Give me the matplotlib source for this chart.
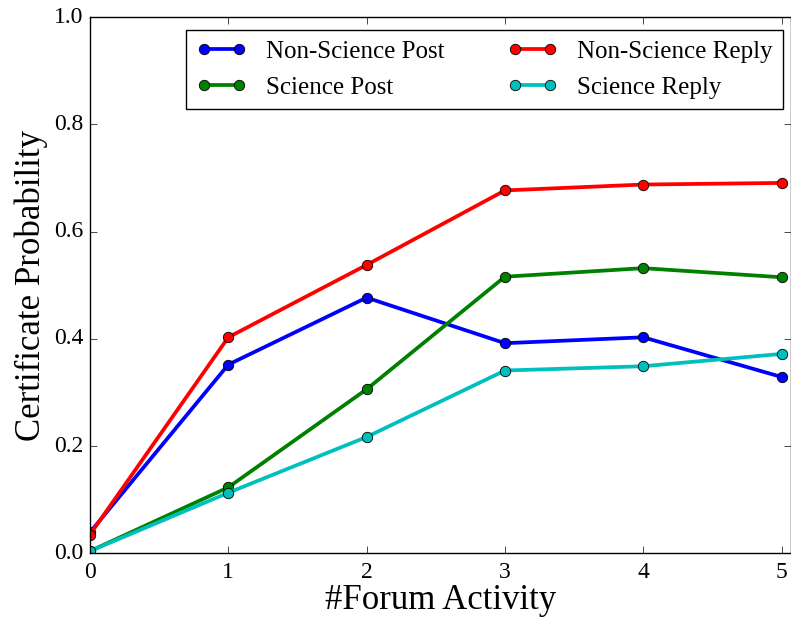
import matplotlib
matplotlib.use('Agg')
import matplotlib.pyplot as plt

plt.style.use('classic')
plt.rcParams['font.family'] = ['Liberation Serif', 'DejaVu Serif']
plt.rcParams['mathtext.fontset'] = 'stix'

# forum activity count on the x axis
activity = [0, 1, 2, 3, 4, 5]

# certificate probability per group
nonsci_post = [0.039, 0.352, 0.477, 0.392, 0.403, 0.329]
sci_post = [0.004, 0.123, 0.306, 0.516, 0.532, 0.515]
nonsci_reply = [0.035, 0.403, 0.538, 0.677, 0.688, 0.691]
sci_reply = [0.004, 0.113, 0.217, 0.341, 0.349, 0.372]

labels = ['Non-Science Post', 'Science Post', 'Non-Science Reply', 'Science Reply']
colors = ['b', 'g', 'r', 'c']

fig = plt.figure(figsize=(7.91, 6.19), dpi=100, facecolor='white')
ax = fig.add_axes([90 / 791, 65.7 / 619, 700.5 / 791, 536 / 619])

for series, lab, col in zip([nonsci_post, sci_post, nonsci_reply, sci_reply], labels, colors):
    ax.plot(activity, series, 'o-', color=col, label=lab, linewidth=2.7,
            markersize=7.5, markeredgewidth=0.6, markeredgecolor='k')

ax.set_xlim(0, 5.065)
ax.set_ylim(0, 1.0)
ax.set_xticks(activity)
ax.set_yticks([0.0, 0.2, 0.4, 0.6, 0.8, 1.0])
ax.tick_params(axis='both', which='major', labelsize=17, length=5)
ax.tick_params(axis='y', pad=5)
ax.tick_params(axis='x', pad=6)

ax.set_xlabel('#Forum Activity', fontsize=25, labelpad=1)
ax.set_ylabel('Certificate Probability', fontsize=25, labelpad=4)

ax.legend(loc='upper right', bbox_to_anchor=(0.9893, 0.9763), borderaxespad=0,
          ncol=2, fontsize=18, numpoints=2, frameon=True,
          handlelength=2.0, labelspacing=0.55, columnspacing=2.5)

fig.savefig('out.png', dpi=100, facecolor='white')
